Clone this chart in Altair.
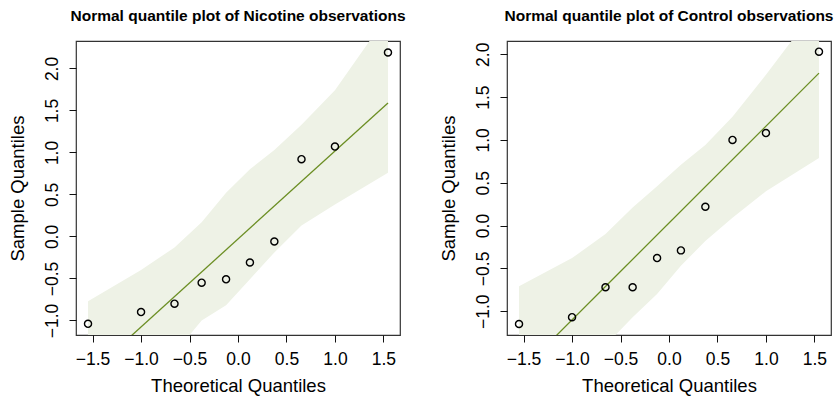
import altair as alt
import pandas as pd

# Theoretical normal quantiles (10 observations per group)
theoretical = [-1.547, -1.000, -0.655, -0.375, -0.123, 0.123, 0.375, 0.655, 1.000, 1.547]

# Ordered sample values
nicotine = [-1.04, -0.90, -0.80, -0.55, -0.51, -0.31, -0.06, 0.92, 1.07, 2.19]
control = [-1.15, -1.07, -0.72, -0.72, -0.38, -0.29, 0.22, 1.00, 1.08, 2.03]

# Confidence envelope around the reference line
nicotine_band_low = [-2.70, -1.81, -1.39, -1.00, -0.82, -0.51, -0.19, 0.13, 0.38, 0.76]
nicotine_band_high = [-0.77, -0.40, -0.13, 0.17, 0.52, 0.80, 1.03, 1.33, 1.74, 2.64]
control_band_low = [-2.60, -1.85, -1.40, -1.07, -0.80, -0.47, -0.18, 0.09, 0.40, 0.79]
control_band_high = [-0.71, -0.38, -0.10, 0.21, 0.46, 0.71, 0.94, 1.27, 1.76, 2.58]

# Reference line end points
line_x = [-1.547, 1.547]
nicotine_line = [-1.65, 1.59]
control_line = [-1.72, 1.78]

x_ticks = [-1.5, -1.0, -0.5, 0.0, 0.5, 1.0, 1.5]
y_ticks = [-1.0, -0.5, 0.0, 0.5, 1.0, 1.5, 2.0]
x_domain = [-1.671, 1.671]
nicotine_y_domain = [-1.173, 2.327]
control_y_domain = [-1.278, 2.155]

FONT = "Liberation Sans"
BAND = "#EEF2E6"
LINE = "#6B8E23"
W, H = 324, 294


def panel(title, sample, low, high, line_y, y_domain):
    pts = pd.DataFrame({"z": theoretical, "q": sample, "lo": low, "hi": high})
    ln = pd.DataFrame({"z": line_x, "q": line_y})

    x_scale = alt.Scale(domain=x_domain, nice=False, zero=False)
    y_scale = alt.Scale(domain=y_domain, nice=False, zero=False)
    x_axis = alt.Axis(
        values=x_ticks, format=".1f", title="Theoretical Quantiles",
        domain=False, grid=False, tickSize=7, tickColor="#111",
        labelFont=FONT, labelFontSize=17.5, labelColor="black",
        labelBaseline="alphabetic", labelPadding=22.7,
        labelFlush=False, labelOverlap=False,
        titleFont=FONT, titleFontSize=18.5, titleFontWeight="normal",
        titleColor="black", titleBaseline="alphabetic",
        titleX=W / 2, titleY=56, titleAlign="center",
    )
    y_axis = alt.Axis(
        values=y_ticks, format=".1f", title="Sample Quantiles",
        domain=False, grid=False, tickSize=7, tickColor="#111",
        labelFont=FONT, labelFontSize=17.5, labelColor="black",
        labelAngle=270, labelAlign="center", labelBaseline="alphabetic",
        labelPadding=12, labelFlush=False, labelOverlap=False,
        titleFont=FONT, titleFontSize=18.5, titleFontWeight="normal",
        titleColor="black", titleAngle=270, titleBaseline="alphabetic",
        titleX=-53, titleY=H / 2, titleAlign="center",
    )

    band = alt.Chart(pts).mark_area(color=BAND, opacity=1, clip=True).encode(
        x=alt.X("z:Q", scale=x_scale, axis=x_axis),
        y=alt.Y("lo:Q", scale=y_scale, axis=y_axis),
        y2="hi:Q",
    )
    line = alt.Chart(ln).mark_line(color=LINE, strokeWidth=1.3, clip=True).encode(
        x=alt.X("z:Q", scale=x_scale, axis=x_axis),
        y=alt.Y("q:Q", scale=y_scale, axis=y_axis),
    )
    points = alt.Chart(pts).mark_point(
        shape="circle", filled=False, color="black", size=50, strokeWidth=1.4, opacity=1
    ).encode(
        x=alt.X("z:Q", scale=x_scale, axis=x_axis),
        y=alt.Y("q:Q", scale=y_scale, axis=y_axis),
    )
    return alt.layer(band, line, points).properties(
        width=W,
        height=H,
        title=alt.TitleParams(
            text=title, font=FONT, fontSize=15.5, fontWeight="bold", color="black",
            anchor="middle", frame="group", baseline="alphabetic", offset=5,
        ),
    )


left = panel("Normal quantile plot of Nicotine observations",
             nicotine, nicotine_band_low, nicotine_band_high, nicotine_line, nicotine_y_domain)
right = panel("Normal quantile plot of Control observations",
              control, control_band_low, control_band_high, control_line, control_y_domain)

chart = alt.hconcat(left, right, spacing=107, bounds="flush").properties(
    padding={"left": 7, "top": 7, "right": 0, "bottom": 0},
    background="white",
).configure_view(stroke="#333", strokeWidth=1.2)

chart.save("out.html", embed_options={"renderer": "svg", "actions": False})
